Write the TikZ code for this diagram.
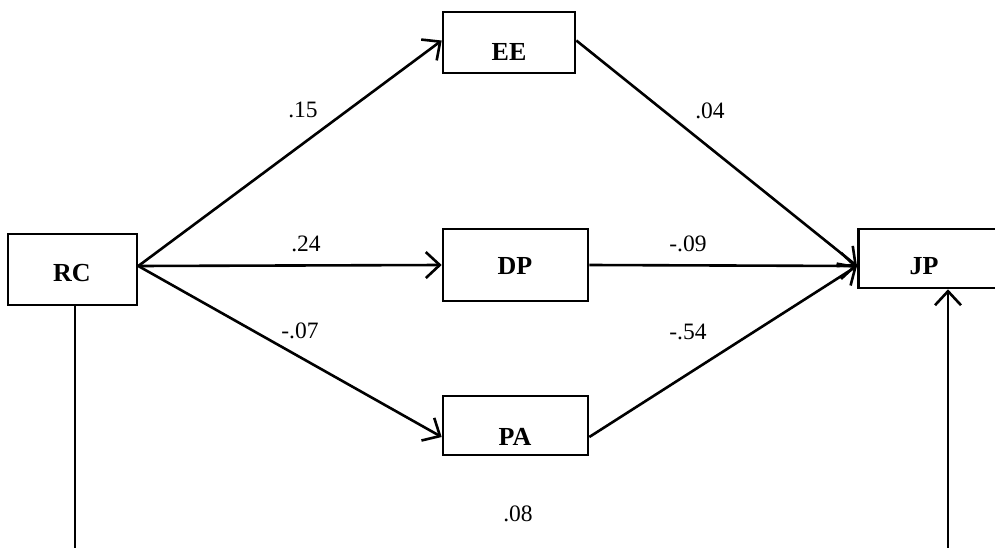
\documentclass[tikz,border=0pt]{standalone}
\usepackage{fontspec}
\setmainfont{Liberation Serif}
\usetikzlibrary{arrows.meta,calc}
\begin{document}
\begin{tikzpicture}[x=1pt,y=-1pt,
  box/.style={draw,line width=2.6pt,inner sep=0pt},
  txt/.style={inner sep=0pt,font=\fontsize{26}{30}\selectfont\bfseries},
  conn/.style={line width=2.6pt,-{Straight Barb[length=14pt,width=26pt,line width=2.6pt]}},
  plain/.style={line width=2.6pt},
  lbl/.style={inner sep=0pt,font=\fontsize{23.5}{27}\selectfont}]
\useasboundingbox (0,0) rectangle (995,548);
\node[box,minimum width=129pt,minimum height=71pt] (RC) at (72.5,269.5) {};
\node[box,minimum width=132pt,minimum height=61pt] (EE) at (509,42.5) {};
\node[box,minimum width=145pt,minimum height=72pt] (DP) at (515.5,265) {};
\node[box,minimum width=145pt,minimum height=59pt] (PA) at (515.5,425.5) {};
\node[box,minimum width=150pt,minimum height=59pt,anchor=west] (JP) at (857,258.5) {};
\node[txt] (tRC) at (72,273) {RC};
\node[txt] (tEE) at (509,52) {EE};
\node[txt] (tDP) at (515,266) {DP};
\node[txt] (tPA) at (515,437) {PA};
\node[txt] (tJP) at (924,266) {JP};
\coordinate (RCo) at ([yshift=3.5pt]RC.east);
\coordinate (JPi) at ([yshift=-7.5pt]JP.west);
\coordinate (PAi) at ([yshift=-11.5pt]PA.west);
\coordinate (PAo) at ([yshift=-11.5pt]PA.east);
\coordinate (B1) at (75,548);
\coordinate (B2) at (948,548);
\draw[conn] (RCo) -- ([yshift=2pt]EE.west);
\draw[conn] (RCo) -- (DP.west);
\draw[conn] (RCo) -- (PAi);
\draw[conn] ([yshift=2pt]EE.east) -- (JPi);
\draw[conn] (DP.east) -- (JPi);
\draw[conn] (PAo) -- (JPi);
\draw[plain] (B1) -- (B1 |- RC.south);
\draw[conn] (B2) -- (B2 |- JP.south);
\node[lbl] (l1) at (303,110) {.15};
\node[lbl] (l2) at (710,111) {.04};
\node[lbl] (l3) at (306,244) {.24};
\node[lbl] (l4) at (688,244) {-.09};
\node[lbl] (l5) at (300,331) {-.07};
\node[lbl] (l6) at (688,332) {-.54};
\node[lbl] (l7) at (518,514) {.08};
\end{tikzpicture}
\end{document}
